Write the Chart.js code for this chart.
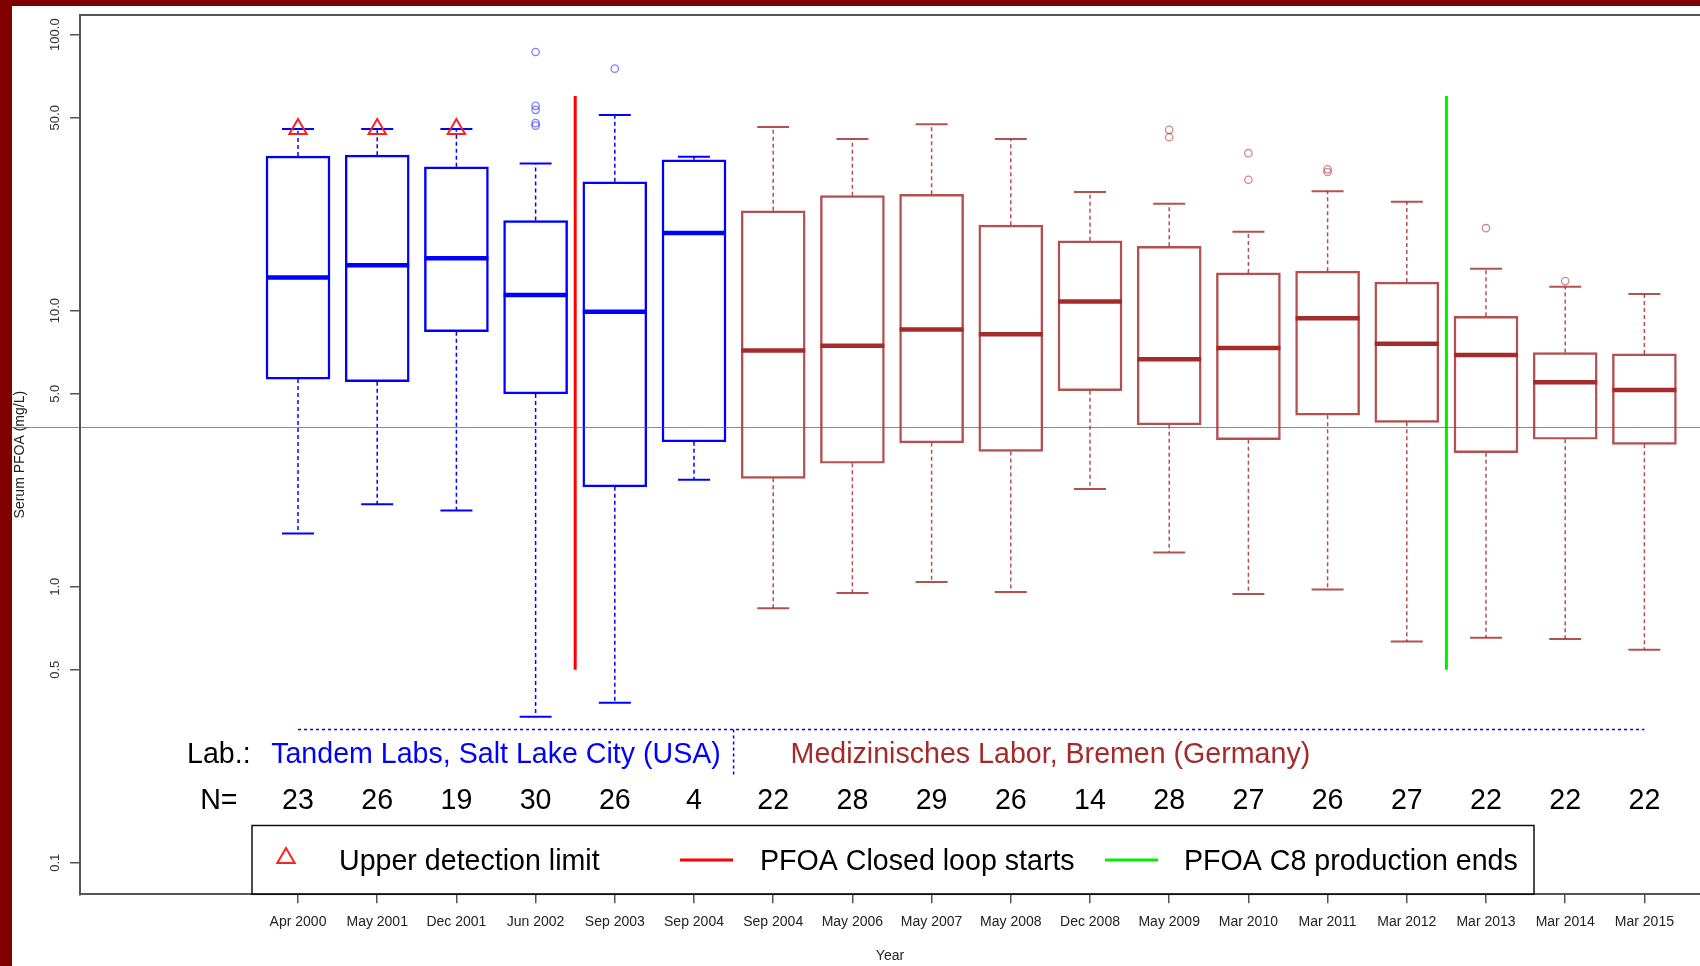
<!DOCTYPE html>
<html>
<head>
<meta charset="utf-8">
<title>Serum PFOA</title>
<script src="https://cdn.jsdelivr.net/npm/chart.js@4.4.1/dist/chart.umd.min.js"></script>
<style>
  html, body { margin: 0; padding: 0; background: #800000; overflow: hidden; }
  #wrap { position: absolute; left: 0; top: 0; width: 1700px; height: 966px; }
  canvas { display: block; }
</style>
</head>
<body>
<div id="wrap"><canvas id="chart" width="1700" height="966"></canvas></div>
<script>
// ---- survey data: serum PFOA (mg/L) per sampling round ----
const categories = ['Apr 2000', 'May 2001', 'Dec 2001', 'Jun 2002', 'Sep 2003', 'Sep 2004',
  'Sep 2004', 'May 2006', 'May 2007', 'May 2008', 'Dec 2008', 'May 2009', 'Mar 2010',
  'Mar 2011', 'Mar 2012', 'Mar 2013', 'Mar 2014', 'Mar 2015'];
const sampleSizes = [23, 26, 19, 30, 26, 4, 22, 28, 29, 26, 14, 28, 27, 26, 27, 22, 22, 22];
// 0 = Tandem Labs, 1 = Medizinisches Labor
const labIndex = [0, 0, 0, 0, 0, 0, 1, 1, 1, 1, 1, 1, 1, 1, 1, 1, 1, 1];
const labNames = ['Tandem Labs, Salt Lake City (USA)', 'Medizinisches Labor, Bremen (Germany)'];

const whiskerLow  = [1.56, 1.99, 1.89, 0.338, 0.380, 2.44, 0.835, 0.949, 1.04, 0.957, 2.26, 1.33, 0.941, 0.977, 0.633, 0.653, 0.646, 0.591];
const quartile1   = [5.65, 5.53, 8.39, 4.99, 2.30, 3.35, 2.47, 2.80, 3.32, 3.09, 5.13, 3.86, 3.41, 4.18, 3.94, 3.06, 3.42, 3.28];
const medians     = [13.2, 14.6, 15.5, 11.4, 9.92, 19.1, 7.18, 7.47, 8.54, 8.21, 10.8, 6.67, 7.32, 9.39, 7.59, 6.91, 5.50, 5.16];
const quartile3   = [36.3, 36.6, 33.2, 21.2, 29.3, 35.2, 23.0, 26.1, 26.4, 20.4, 17.9, 17.1, 13.7, 13.9, 12.7, 9.54, 7.05, 6.97];
const whiskerHigh = [45.5, 45.5, 45.5, 34.1, 51.2, 36.1, 46.3, 41.9, 47.4, 41.9, 26.9, 24.4, 19.3, 27.1, 24.8, 14.2, 12.2, 11.5];

const outlierIndex = [3, 3, 3, 3, 3, 4, 11, 11, 12, 12, 13, 13, 15, 16];
const outlierValue = [86.5, 55.2, 53.4, 47.8, 46.8, 75.3, 45.2, 42.5, 37.2, 29.8, 32.5, 31.8, 19.9, 12.8];

// rounds whose upper whisker sits at the upper detection limit
const detectionLimitIndex = [0, 1, 2];

const eventNames = ['PFOA Closed loop starts', 'PFOA C8 production ends'];
const eventPositions = [4.5, 15.5];
const eventRange = [0.5, 60];

const referenceLevel = 3.8;

const yTickValues = [100, 50, 10, 5, 1, 0.5, 0.1];
const yTickLabels = ['100.0', '50.0', '10.0', '5.0', '1.0', '0.5', '0.1'];

// ---- styling ----
const BLUE = '#0000ff';
const BROWN = '#a52a2a';
const BROWN_SOFT = 'rgba(165,42,42,0.82)';
const FONT = "'Liberation Sans', Arial, Helvetica, sans-serif";
Chart.defaults.font.family = FONT;

const positions = categories.map((_, i) => i + 1);
const boxColor = i => labIndex[i] === 0 ? BLUE : BROWN_SOFT;
const solidColor = i => labIndex[i] === 0 ? BLUE : BROWN;
const outlierColor = i => labIndex[i] === 0 ? 'rgba(0,0,255,0.5)' : 'rgba(165,42,42,0.55)';

function whiskerData(lab) {
  const pts = [];
  positions.forEach((p, i) => {
    if (labIndex[i] !== lab) return;
    pts.push({x: p, y: quartile3[i]}, {x: p, y: whiskerHigh[i]}, {x: p, y: null});
    pts.push({x: p, y: quartile1[i]}, {x: p, y: whiskerLow[i]}, {x: p, y: null});
  });
  return pts;
}

const capPoints = [];
const capColors = [];
positions.forEach((p, i) => {
  capPoints.push({x: p, y: whiskerHigh[i]}, {x: p, y: whiskerLow[i]});
  capColors.push(boxColor(i), boxColor(i));
});

const datasets = [
  {
    type: 'scatter', label: 'Upper detection limit',
    data: detectionLimitIndex.map(i => ({x: positions[i], y: whiskerHigh[i]})),
    pointStyle: 'triangle', pointRadius: 10, pointBorderWidth: 2,
    pointBorderColor: '#ff2020', pointBackgroundColor: 'rgba(0,0,0,0)'
  },
  {
    type: 'scatter', label: 'medians',
    data: positions.map((p, i) => ({x: p, y: medians[i]})),
    pointStyle: 'line', pointRadius: 32, pointBorderWidth: 4.5,
    pointBorderColor: positions.map((p, i) => solidColor(i))
  },
  {
    type: 'bar', label: 'boxes',
    data: positions.map((p, i) => ({x: p, y: [quartile1[i], quartile3[i]]})),
    backgroundColor: 'rgba(0,0,0,0)',
    borderColor: positions.map((p, i) => boxColor(i)),
    borderWidth: 1.8, borderSkipped: false, barThickness: 64
  },
  {
    type: 'scatter', label: 'caps',
    data: capPoints, pointStyle: 'line', pointRadius: 16, pointBorderWidth: 2,
    pointBorderColor: capColors
  },
  {
    type: 'line', label: 'whiskers Tandem', data: whiskerData(0),
    borderColor: BLUE, borderWidth: 1.5, borderDash: [4, 3], pointRadius: 0, spanGaps: false, tension: 0
  },
  {
    type: 'line', label: 'whiskers Bremen', data: whiskerData(1),
    borderColor: BROWN_SOFT, borderWidth: 1.5, borderDash: [4, 3], pointRadius: 0, spanGaps: false, tension: 0
  },
  {
    type: 'scatter', label: 'outliers',
    data: outlierIndex.map((i, k) => ({x: positions[i], y: outlierValue[k]})),
    pointStyle: 'circle', pointRadius: 3.7, pointBorderWidth: 1.3,
    pointBorderColor: outlierIndex.map(i => outlierColor(i)), pointBackgroundColor: 'rgba(0,0,0,0)'
  },
  {
    type: 'line', label: eventNames[0],
    data: eventRange.map(v => ({x: eventPositions[0], y: v})),
    borderColor: '#ff0000', borderWidth: 3, pointRadius: 0
  },
  {
    type: 'line', label: eventNames[1],
    data: eventRange.map(v => ({x: eventPositions[1], y: v})),
    borderColor: '#00ee00', borderWidth: 3, pointRadius: 0
  }
];

// axis limits: log range below 0.1 leaves room for the lab / N table
const Y_MIN = 0.07685, Y_MAX = 117.8;
const X_MIN = -1.7526, X_MAX = 18.702;

const decor = {
  id: 'decor',
  beforeDraw(chart) {
    const {ctx, width, height} = chart;
    ctx.save();
    ctx.fillStyle = '#800000';
    ctx.fillRect(0, 0, width, height);
    ctx.fillStyle = '#ffffff';
    ctx.fillRect(12, 6, width - 12, height - 6);
    ctx.restore();
  },
  afterDatasetsDraw(chart) {
    const {ctx, width, scales: {y}} = chart;
    const yy = Math.round(y.getPixelForValue(referenceLevel)) + 0.5;
    ctx.save();
    ctx.strokeStyle = 'rgba(165,60,60,0.7)';
    ctx.lineWidth = 1;
    ctx.beginPath();
    ctx.moveTo(12, yy);
    ctx.lineTo(width, yy);
    ctx.stroke();
    ctx.restore();
  },
  afterDraw(chart) {
    const {ctx, chartArea, scales: {x, y}} = chart;
    ctx.save();

    // top frame
    ctx.strokeStyle = '#555';
    ctx.lineWidth = 2;
    ctx.beginPath();
    ctx.moveTo(chartArea.left - 1, chartArea.top);
    ctx.lineTo(chartArea.right, chartArea.top);
    ctx.stroke();

    // rotated y tick labels
    ctx.fillStyle = '#333';
    ctx.font = '13px ' + FONT;
    ctx.textAlign = 'center';
    ctx.textBaseline = 'middle';
    yTickValues.forEach((v, k) => {
      ctx.save();
      ctx.translate(55, y.getPixelForValue(v));
      ctx.rotate(-Math.PI / 2);
      ctx.fillText(yTickLabels[k], 0, 0);
      ctx.restore();
    });

    // lab table
    const big = '28.6px ' + FONT;
    const ruleY = 729.5;
    const firstB = labIndex.indexOf(1);
    const split = firstB + 0.5;
    ctx.strokeStyle = BLUE;
    ctx.lineWidth = 1.5;
    ctx.setLineDash([3, 3]);
    ctx.beginPath();
    ctx.moveTo(x.getPixelForValue(positions[0]), ruleY);
    ctx.lineTo(x.getPixelForValue(positions[positions.length - 1]), ruleY);
    ctx.moveTo(x.getPixelForValue(split), ruleY);
    ctx.lineTo(x.getPixelForValue(split), 776);
    ctx.stroke();
    ctx.setLineDash([]);

    ctx.font = big;
    ctx.textBaseline = 'alphabetic';
    ctx.textAlign = 'center';
    ctx.fillStyle = '#000';
    ctx.fillText('Lab.:', x.getPixelForValue(0), 762.5);
    ctx.fillStyle = BLUE;
    ctx.fillText(labNames[0], x.getPixelForValue((1 + firstB) / 2), 762.5);
    ctx.fillStyle = BROWN;
    ctx.fillText(labNames[1], x.getPixelForValue(10.5), 762.5);

    ctx.fillStyle = '#000';
    ctx.fillText('N=', x.getPixelForValue(0), 808.5);
    sampleSizes.forEach((n, i) => ctx.fillText(String(n), x.getPixelForValue(positions[i]), 808.5));

    // legend
    const lx0 = 252, lx1 = 1534, ly0 = 825.5, ly1 = chartArea.bottom;
    ctx.strokeStyle = '#111';
    ctx.lineWidth = 1.5;
    ctx.strokeRect(lx0, ly0, lx1 - lx0, ly1 - ly0);
    const midY = 860;
    const r = 10, tx = 286, ty = 858;
    ctx.strokeStyle = '#ff2020';
    ctx.lineWidth = 2;
    ctx.beginPath();
    for (let k = 0; k < 3; k++) {
      const a = k * 2 * Math.PI / 3;
      const px = tx + Math.sin(a) * r, py = ty - Math.cos(a) * r;
      if (k === 0) ctx.moveTo(px, py); else ctx.lineTo(px, py);
    }
    ctx.closePath();
    ctx.stroke();
    ctx.lineWidth = 3;
    ctx.strokeStyle = '#ff0000';
    ctx.beginPath(); ctx.moveTo(680, midY); ctx.lineTo(733, midY); ctx.stroke();
    ctx.strokeStyle = '#00ee00';
    ctx.beginPath(); ctx.moveTo(1105, midY); ctx.lineTo(1158, midY); ctx.stroke();
    ctx.fillStyle = '#000';
    ctx.textAlign = 'left';
    ctx.fillText('Upper detection limit', 339, 870);
    ctx.fillText(eventNames[0], 760, 870);
    ctx.fillText(eventNames[1], 1184, 870);

    ctx.restore();
  }
};

new Chart(document.getElementById('chart'), {
  type: 'scatter',
  data: {datasets},
  options: {
    responsive: false,
    animation: false,
    events: [],
    devicePixelRatio: 1,
    layout: {autoPadding: false, padding: {top: 15, left: 0, right: 0, bottom: 0}},
    plugins: {legend: {display: false}, tooltip: {enabled: false}},
    scales: {
      x: {
        type: 'linear', min: X_MIN, max: X_MAX, offset: false,
        afterBuildTicks: s => { s.ticks = positions.map(v => ({value: v})); },
        afterFit: s => { s.height = 71.7; s.paddingLeft = 0; s.paddingRight = 0; },
        ticks: {
          autoSkip: false, maxRotation: 0, minRotation: 0, padding: 10,
          color: '#222', font: {size: 14},
          callback: v => categories[v - 1] || ''
        },
        grid: {drawOnChartArea: false, drawTicks: true, tickLength: 9, color: '#555', lineWidth: 1.5, offset: false},
        border: {display: true, color: '#555', width: 2},
        title: {display: true, text: 'Year', color: '#222', font: {size: 14}, padding: {top: 0, bottom: 1}}
      },
      y: {
        type: 'logarithmic', min: Y_MIN, max: Y_MAX,
        afterBuildTicks: s => { s.ticks = yTickValues.map(v => ({value: v})); },
        afterFit: s => { s.width = 80; s.paddingTop = 0; s.paddingBottom = 0; },
        ticks: {display: false},
        grid: {drawOnChartArea: false, drawTicks: true, tickLength: 10, color: '#555', lineWidth: 1.5},
        border: {display: true, color: '#555', width: 2},
        title: {display: true, text: 'Serum PFOA (mg/L)', color: '#222', font: {size: 14}, padding: {top: 12, bottom: 0}}
      }
    }
  },
  plugins: [decor]
});
</script>
</body>
</html>
